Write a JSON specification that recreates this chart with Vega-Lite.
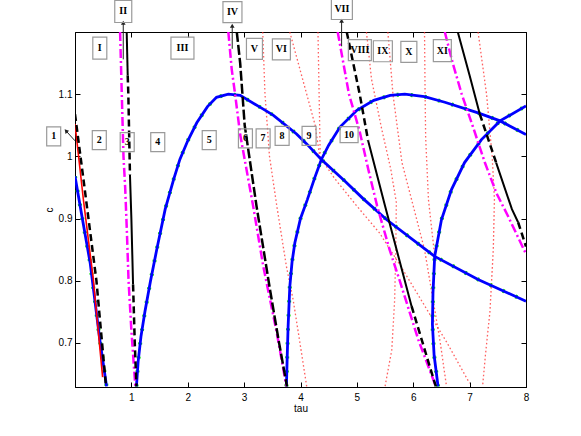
{
"$schema":"https://vega.github.io/schema/vega-lite/v6.json",
"width":451,"height":355,
"autosize":{"type":"none"},
"padding":{"left":75,"top":32,"right":55,"bottom":49},
"background":"white",
"config":{
 "view":{"stroke":"black","strokeWidth":1},
 "axis":{"domainColor":"black","domainWidth":1,"tickColor":"black","tickSize":-5,"tickWidth":1,"grid":false,
  "labelFont":"Liberation Sans","labelFontSize":10,"labelColor":"black","labelFlush":false,"labelOverlap":false,"labelBound":false,
  "titleFont":"Liberation Sans","titleFontSize":10,"titleFontWeight":"normal","titleColor":"black"}
},
"datasets":{
 "curves":[
  {"s":"b1","i":0,"tau":0,"c":0.968},{"s":"b1","i":1,"tau":0.13,"c":0.9},{"s":"b1","i":2,"tau":0.27,"c":0.828},{"s":"b1","i":3,"tau":0.44,"c":0.705},{"s":"b1","i":4,"tau":0.56,"c":0.63},
  {"s":"b2","i":0,"tau":1.09,"c":0.63},{"s":"b2","i":1,"tau":1.12,"c":0.67},{"s":"b2","i":2,"tau":1.17,"c":0.71},{"s":"b2","i":3,"tau":1.24,"c":0.75},{"s":"b2","i":4,"tau":1.34,"c":0.8},{"s":"b2","i":5,"tau":1.45,"c":0.85},{"s":"b2","i":6,"tau":1.6,"c":0.915},{"s":"b2","i":7,"tau":1.75,"c":0.963},{"s":"b2","i":8,"tau":1.86,"c":0.995},{"s":"b2","i":9,"tau":2.0,"c":1.025},{"s":"b2","i":10,"tau":2.16,"c":1.054},{"s":"b2","i":11,"tau":2.35,"c":1.08},{"s":"b2","i":12,"tau":2.51,"c":1.095},{"s":"b2","i":13,"tau":2.72,"c":1.1},{"s":"b2","i":14,"tau":2.93,"c":1.098},{"s":"b2","i":15,"tau":3.34,"c":1.076},{"s":"b2","i":16,"tau":3.52,"c":1.066},{"s":"b2","i":17,"tau":3.93,"c":1.036},{"s":"b2","i":18,"tau":4.11,"c":1.02},{"s":"b2","i":19,"tau":4.37,"c":0.995},{"s":"b2","i":20,"tau":4.79,"c":0.96},{"s":"b2","i":21,"tau":5.11,"c":0.932},{"s":"b2","i":22,"tau":5.53,"c":0.898},{"s":"b2","i":23,"tau":6.38,"c":0.839},{"s":"b2","i":24,"tau":7.15,"c":0.802},{"s":"b2","i":25,"tau":8.0,"c":0.767},
  {"s":"b3","i":0,"tau":3.75,"c":0.63},{"s":"b3","i":1,"tau":3.765,"c":0.68},{"s":"b3","i":2,"tau":3.78,"c":0.726},{"s":"b3","i":3,"tau":3.81,"c":0.79},{"s":"b3","i":4,"tau":3.85,"c":0.83},{"s":"b3","i":5,"tau":3.9,"c":0.861},{"s":"b3","i":6,"tau":4.0,"c":0.9},{"s":"b3","i":7,"tau":4.12,"c":0.93},{"s":"b3","i":8,"tau":4.25,"c":0.965},{"s":"b3","i":9,"tau":4.37,"c":0.995},{"s":"b3","i":10,"tau":4.5,"c":1.018},{"s":"b3","i":11,"tau":4.7,"c":1.047},{"s":"b3","i":12,"tau":5.0,"c":1.074},{"s":"b3","i":13,"tau":5.3,"c":1.09},{"s":"b3","i":14,"tau":5.59,"c":1.098},{"s":"b3","i":15,"tau":5.85,"c":1.1},{"s":"b3","i":16,"tau":6.2,"c":1.096},{"s":"b3","i":17,"tau":6.56,"c":1.087},{"s":"b3","i":18,"tau":7.15,"c":1.07},{"s":"b3","i":19,"tau":7.54,"c":1.057},{"s":"b3","i":20,"tau":8.0,"c":1.035},
  {"s":"b4","i":0,"tau":6.44,"c":0.63},{"s":"b4","i":1,"tau":6.37,"c":0.68},{"s":"b4","i":2,"tau":6.34,"c":0.73},{"s":"b4","i":3,"tau":6.35,"c":0.78},{"s":"b4","i":4,"tau":6.38,"c":0.839},{"s":"b4","i":5,"tau":6.5,"c":0.898},{"s":"b4","i":6,"tau":6.68,"c":0.947},{"s":"b4","i":7,"tau":6.91,"c":0.99},{"s":"b4","i":8,"tau":7.21,"c":1.027},{"s":"b4","i":9,"tau":7.54,"c":1.057},{"s":"b4","i":10,"tau":8.0,"c":1.081},
  {"s":"r1","i":0,"tau":3.33,"c":1.2},{"s":"r1","i":1,"tau":3.37,"c":1.1},{"s":"r1","i":2,"tau":3.45,"c":1.0},{"s":"r1","i":3,"tau":3.58,"c":0.92},{"s":"r1","i":4,"tau":3.75,"c":0.823},{"s":"r1","i":5,"tau":3.87,"c":0.769},{"s":"r1","i":6,"tau":3.99,"c":0.7},{"s":"r1","i":7,"tau":4.11,"c":0.63},
  {"s":"r2","i":0,"tau":3.81,"c":1.2},{"s":"r2","i":1,"tau":3.96,"c":1.15},{"s":"r2","i":2,"tau":4.11,"c":1.1},{"s":"r2","i":3,"tau":4.26,"c":1.05},{"s":"r2","i":4,"tau":4.34,"c":1.0},{"s":"r2","i":5,"tau":4.6,"c":0.965},{"s":"r2","i":6,"tau":5.0,"c":0.92},{"s":"r2","i":7,"tau":5.4,"c":0.877},{"s":"r2","i":8,"tau":5.8,"c":0.82},{"s":"r2","i":9,"tau":6.2,"c":0.76},{"s":"r2","i":10,"tau":6.6,"c":0.7},{"s":"r2","i":11,"tau":7.0,"c":0.635},
  {"s":"r3","i":0,"tau":4.31,"c":1.2},{"s":"r3","i":1,"tau":4.33,"c":1.1},{"s":"r3","i":2,"tau":4.35,"c":1.0},
  {"s":"r4","i":0,"tau":5.17,"c":1.2},{"s":"r4","i":1,"tau":5.26,"c":1.124},{"s":"r4","i":2,"tau":5.44,"c":1.044},{"s":"r4","i":3,"tau":5.6,"c":0.98},{"s":"r4","i":4,"tau":5.7,"c":0.926},{"s":"r4","i":5,"tau":5.69,"c":0.85},{"s":"r4","i":6,"tau":5.67,"c":0.769},{"s":"r4","i":7,"tau":5.62,"c":0.689},{"s":"r4","i":8,"tau":5.5,"c":0.63},
  {"s":"r5","i":0,"tau":5.55,"c":1.2},{"s":"r5","i":1,"tau":5.64,"c":1.1},{"s":"r5","i":2,"tau":5.8,"c":0.99},{"s":"r5","i":3,"tau":6.0,"c":0.92},{"s":"r5","i":4,"tau":6.2,"c":0.85},{"s":"r5","i":5,"tau":6.35,"c":0.77},{"s":"r5","i":6,"tau":6.48,"c":0.7},{"s":"r5","i":7,"tau":6.59,"c":0.63},
  {"s":"r6","i":0,"tau":6.2,"c":1.2},{"s":"r6","i":1,"tau":6.21,"c":1.1},{"s":"r6","i":2,"tau":6.22,"c":1.03},{"s":"r6","i":3,"tau":6.27,"c":0.93},{"s":"r6","i":4,"tau":6.38,"c":0.84},
  {"s":"r7","i":0,"tau":7.15,"c":1.2},{"s":"r7","i":1,"tau":7.3,"c":1.1},{"s":"r7","i":2,"tau":7.4,"c":1.0},{"s":"r7","i":3,"tau":7.44,"c":0.93},{"s":"r7","i":4,"tau":7.42,"c":0.85},{"s":"r7","i":5,"tau":7.36,"c":0.75},{"s":"r7","i":6,"tau":7.28,"c":0.68},{"s":"r7","i":7,"tau":7.23,"c":0.63},
  {"s":"rA","i":0,"tau":0,"c":1.052},{"s":"rA","i":1,"tau":0.148,"c":0.931},{"s":"rA","i":2,"tau":0.325,"c":0.802},{"s":"rA","i":3,"tau":0.49,"c":0.645},
  {"s":"mB","i":0,"tau":0.8,"c":1.2},{"s":"mB","i":1,"tau":0.83,"c":1.1},{"s":"mB","i":2,"tau":0.86,"c":1.0},{"s":"mB","i":3,"tau":0.89,"c":0.95},{"s":"mB","i":4,"tau":0.92,"c":0.88},{"s":"mB","i":5,"tau":0.95,"c":0.8},{"s":"mB","i":6,"tau":1.0,"c":0.72},{"s":"mB","i":7,"tau":1.07,"c":0.63},
  {"s":"mC","i":0,"tau":2.72,"c":1.2},{"s":"mC","i":1,"tau":2.78,"c":1.14},{"s":"mC","i":2,"tau":2.84,"c":1.1},{"s":"mC","i":3,"tau":2.93,"c":1.035},{"s":"mC","i":4,"tau":3.16,"c":0.92},{"s":"mC","i":5,"tau":3.34,"c":0.823},{"s":"mC","i":6,"tau":3.58,"c":0.716},{"s":"mC","i":7,"tau":3.75,"c":0.63},
  {"s":"mD","i":0,"tau":4.66,"c":1.2},{"s":"mD","i":1,"tau":4.86,"c":1.1},{"s":"mD","i":2,"tau":5.05,"c":1.04},{"s":"mD","i":3,"tau":5.2,"c":0.98},{"s":"mD","i":4,"tau":5.36,"c":0.92},{"s":"mD","i":5,"tau":5.58,"c":0.85},{"s":"mD","i":6,"tau":5.76,"c":0.8},{"s":"mD","i":7,"tau":6.09,"c":0.705},{"s":"mD","i":8,"tau":6.4,"c":0.63},
  {"s":"mE","i":0,"tau":6.56,"c":1.2},{"s":"mE","i":1,"tau":6.7,"c":1.15},{"s":"mE","i":2,"tau":6.86,"c":1.1},{"s":"mE","i":3,"tau":7.05,"c":1.05},{"s":"mE","i":4,"tau":7.27,"c":0.99},{"s":"mE","i":5,"tau":7.48,"c":0.94},{"s":"mE","i":6,"tau":7.68,"c":0.904},{"s":"mE","i":7,"tau":8.0,"c":0.843},
  {"s":"kAd","i":0,"tau":0,"c":1.068},{"s":"kAd","i":1,"tau":0.15,"c":0.963},{"s":"kAd","i":2,"tau":0.38,"c":0.8},{"s":"kAd","i":3,"tau":0.55,"c":0.63},
  {"s":"kBs1","i":0,"tau":0.917,"c":1.2},{"s":"kBs1","i":1,"tau":0.935,"c":1.13},
  {"s":"kBd1","i":0,"tau":0.935,"c":1.13},{"s":"kBd1","i":1,"tau":0.946,"c":1.1},{"s":"kBd1","i":2,"tau":0.975,"c":0.97},
  {"s":"kBs2","i":0,"tau":0.975,"c":0.97},{"s":"kBs2","i":1,"tau":1.0,"c":0.9},{"s":"kBs2","i":2,"tau":1.03,"c":0.794},
  {"s":"kBd2","i":0,"tau":1.03,"c":0.794},{"s":"kBd2","i":1,"tau":1.06,"c":0.7},{"s":"kBd2","i":2,"tau":1.09,"c":0.63},
  {"s":"kCd","i":0,"tau":2.87,"c":1.2},{"s":"kCd","i":1,"tau":2.93,"c":1.15},{"s":"kCd","i":2,"tau":3.01,"c":1.05},{"s":"kCd","i":3,"tau":3.22,"c":0.92},{"s":"kCd","i":4,"tau":3.46,"c":0.785},{"s":"kCd","i":5,"tau":3.62,"c":0.7},{"s":"kCd","i":6,"tau":3.76,"c":0.63},
  {"s":"kDd1","i":0,"tau":4.82,"c":1.2},{"s":"kDd1","i":1,"tau":5.05,"c":1.1},{"s":"kDd1","i":2,"tau":5.2,"c":1.025},
  {"s":"kDs","i":0,"tau":5.2,"c":1.025},{"s":"kDs","i":1,"tau":5.5,"c":0.92},{"s":"kDs","i":2,"tau":5.97,"c":0.759},
  {"s":"kDd2","i":0,"tau":5.97,"c":0.759},{"s":"kDd2","i":1,"tau":6.2,"c":0.69},{"s":"kDd2","i":2,"tau":6.4,"c":0.63},
  {"s":"kEs1","i":0,"tau":6.79,"c":1.2},{"s":"kEs1","i":1,"tau":7.0,"c":1.13},{"s":"kEs1","i":2,"tau":7.18,"c":1.068},
  {"s":"kEd1","i":0,"tau":7.18,"c":1.068},{"s":"kEd1","i":1,"tau":7.47,"c":0.99},
  {"s":"kEs2","i":0,"tau":7.47,"c":0.99},{"s":"kEs2","i":1,"tau":7.75,"c":0.915},{"s":"kEs2","i":2,"tau":7.86,"c":0.894},
  {"s":"kEd2","i":0,"tau":7.86,"c":0.894},{"s":"kEd2","i":1,"tau":8.0,"c":0.855}
 ],
 "labels":[
  {"label":"1","tau":-0.378,"c":1.032},{"label":"2","tau":0.431,"c":1.026},{"label":"3","tau":0.926,"c":1.023},{"label":"4","tau":1.468,"c":1.023},{"label":"5","tau":2.381,"c":1.026},{"label":"6","tau":3.023,"c":1.029},{"label":"7","tau":3.337,"c":1.029},{"label":"8","tau":3.674,"c":1.033},{"label":"9","tau":4.152,"c":1.033},{"label":"10","tau":4.862,"c":1.035},
  {"label":"I","tau":0.44,"c":1.174},{"label":"II","tau":0.856,"c":1.233},{"label":"III","tau":1.906,"c":1.174},{"label":"IV","tau":2.793,"c":1.232},{"label":"V","tau":3.183,"c":1.173},{"label":"VI","tau":3.661,"c":1.172},{"label":"VII","tau":4.734,"c":1.237},{"label":"VIII","tau":5.053,"c":1.171},{"label":"IX","tau":5.461,"c":1.169},{"label":"X","tau":5.922,"c":1.168},{"label":"XI","tau":6.516,"c":1.17}
 ],
 "arrows":[
  {"name":"1","tau":0,"c":1.025,"tau2":-0.16,"c2":1.041,"angle":318},
  {"name":"II","tau":0.856,"c":1.156,"tau2":0.856,"c2":1.215,"angle":0},
  {"name":"IV","tau":2.789,"c":1.173,"tau2":2.789,"c2":1.21,"angle":0},
  {"name":"VII","tau":4.729,"c":1.177,"tau2":4.729,"c2":1.218,"angle":0}
 ]
},
"encoding":{
 "x":{"field":"tau","type":"quantitative","scale":{"domain":[0,8],"nice":false,"zero":false},"axis":null},
 "y":{"field":"c","type":"quantitative","scale":{"domain":[0.629,1.2],"nice":false,"zero":false},"axis":null}
},
"layer":[
 {"data":{"name":"curves"},"mark":{"type":"point","opacity":0},
  "encoding":{
   "x":{"field":"tau","type":"quantitative","scale":{"domain":[0,8],"nice":false,"zero":false},
        "axis":{"orient":"bottom","values":[1,2,3,4,5,6,7,8],"format":"d","title":"tau","labelPadding":10,"titlePadding":1}},
   "y":{"field":"c","type":"quantitative","scale":{"domain":[0.629,1.2],"nice":false,"zero":false},
        "axis":{"orient":"left","values":[0.7,0.8,0.9,1,1.1],"format":"~g","title":"c","labelPadding":8,"titlePadding":4}}}},
 {"data":{"name":"curves"},"mark":{"type":"point","opacity":0},
  "encoding":{
   "x":{"field":"tau","type":"quantitative","scale":{"domain":[0,8],"nice":false,"zero":false},
        "axis":{"orient":"top","values":[1,2,3,4,5,6,7,8],"labels":false,"title":null}},
   "y":{"field":"c","type":"quantitative","scale":{"domain":[0.629,1.2],"nice":false,"zero":false},
        "axis":{"orient":"right","values":[0.7,0.8,0.9,1,1.1],"labels":false,"title":null}}}},
 {"data":{"name":"curves"},"transform":[{"filter":{"field":"s","oneOf":["r1","r2","r3","r4","r5","r6","r7"]}}],
  "mark":{"type":"line","clip":true,"color":"#ff2a2a","strokeWidth":1.3,"strokeDash":[1.6,2.4],"opacity":0.75},
  "encoding":{"detail":{"field":"s"},"order":{"field":"i","type":"quantitative"}}},
 {"data":{"name":"curves"},"transform":[{"filter":{"field":"s","oneOf":["b1","b2","b3","b4"]}}],
  "mark":{"type":"line","clip":true,"color":"#00dd00","strokeWidth":4,"strokeDash":[2,12]},
  "encoding":{"detail":{"field":"s"},"order":{"field":"i","type":"quantitative"}}},
 {"data":{"name":"curves"},"transform":[{"filter":{"field":"s","oneOf":["b1","b2","b3","b4"]}}],
  "mark":{"type":"line","clip":true,"color":"#0000ff","strokeWidth":2.8},
  "encoding":{"detail":{"field":"s"},"order":{"field":"i","type":"quantitative"}}},
 {"data":{"name":"curves"},"transform":[{"filter":{"field":"s","oneOf":["rA"]}}],
  "mark":{"type":"line","clip":true,"color":"#ff0000","strokeWidth":1.6},
  "encoding":{"detail":{"field":"s"},"order":{"field":"i","type":"quantitative"}}},
 {"data":{"name":"curves"},"transform":[{"filter":{"field":"s","oneOf":["mB","mC","mD","mE"]}}],
  "mark":{"type":"line","clip":true,"color":"#ff00ff","strokeWidth":2.5,"strokeDash":[9,3,2,3]},
  "encoding":{"detail":{"field":"s"},"order":{"field":"i","type":"quantitative"}}},
 {"data":{"name":"curves"},"transform":[{"filter":{"field":"s","oneOf":["kAd","kBd1","kBd2","kDd1","kDd2","kEd1","kEd2"]}}],
  "mark":{"type":"line","clip":true,"color":"#000000","strokeWidth":2.5,"strokeDash":[7,4]},
  "encoding":{"detail":{"field":"s"},"order":{"field":"i","type":"quantitative"}}},
 {"data":{"name":"curves"},"transform":[{"filter":{"field":"s","oneOf":["kCd"]}}],
  "mark":{"type":"line","clip":true,"color":"#000000","strokeWidth":2.5,"strokeDash":[10,3]},
  "encoding":{"detail":{"field":"s"},"order":{"field":"i","type":"quantitative"}}},
 {"data":{"name":"curves"},"transform":[{"filter":{"field":"s","oneOf":["kBs1","kBs2","kDs","kEs1","kEs2"]}}],
  "mark":{"type":"line","clip":true,"color":"#000000","strokeWidth":2},
  "encoding":{"detail":{"field":"s"},"order":{"field":"i","type":"quantitative"}}},
 {"data":{"name":"arrows"},"mark":{"type":"rule","color":"#222222","strokeWidth":1},
  "encoding":{"x2":{"field":"tau2"},"y2":{"field":"c2"}}},
 {"data":{"name":"arrows"},"mark":{"type":"point","shape":"triangle-up","filled":true,"color":"#222222","size":22,"opacity":1},
  "encoding":{"x":{"field":"tau2","type":"quantitative"},"y":{"field":"c2","type":"quantitative"},"angle":{"field":"angle","type":"quantitative","scale":null}}},
 {"data":{"name":"labels"},"mark":{"type":"point","size":100,"filled":false,"stroke":"#9a9a9a","strokeWidth":1.2,"opacity":1},
  "encoding":{"shape":{"field":"label","type":"nominal","legend":null,
   "scale":{"domain":["1","2","3","4","5","6","7","8","9","10","I","II","III","IV","V","VI","VII","VIII","IX","X","XI"],
    "range":["M-1.4,-1.9H1.4V1.9H-1.4Z","M-1.4,-1.9H1.4V1.9H-1.4Z","M-1.4,-1.9H1.4V1.9H-1.4Z","M-1.4,-1.9H1.4V1.9H-1.4Z","M-1.4,-1.9H1.4V1.9H-1.4Z","M-1.4,-1.9H1.4V1.9H-1.4Z","M-1.4,-1.9H1.4V1.9H-1.4Z","M-1.4,-1.9H1.4V1.9H-1.4Z","M-1.4,-1.9H1.4V1.9H-1.4Z","M-1.8,-1.6H1.8V1.6H-1.8Z",
     "M-1.4,-2.2H1.4V2.2H-1.4Z","M-1.7,-2.2H1.7V2.2H-1.7Z","M-2.3,-2.2H2.3V2.2H-2.3Z","M-1.9,-2.1H1.9V2.1H-1.9Z","M-1.6,-2.1H1.6V2.1H-1.6Z","M-1.8,-2.1H1.8V2.1H-1.8Z","M-2.1,-2.1H2.1V2.1H-2.1Z","M-2.3,-2.1H2.3V2.1H-2.3Z","M-1.9,-2.1H1.9V2.1H-1.9Z","M-1.6,-2.1H1.6V2.1H-1.6Z","M-1.8,-2.2H1.8V2.2H-1.8Z"]}}}},
 {"data":{"name":"labels"},"mark":{"type":"text","font":"Liberation Serif","fontWeight":"bold","fontSize":10,"color":"black","align":"center","baseline":"middle"},
  "encoding":{"text":{"field":"label"}}}
],
"resolve":{"axis":{"x":"independent","y":"independent"}}
}
